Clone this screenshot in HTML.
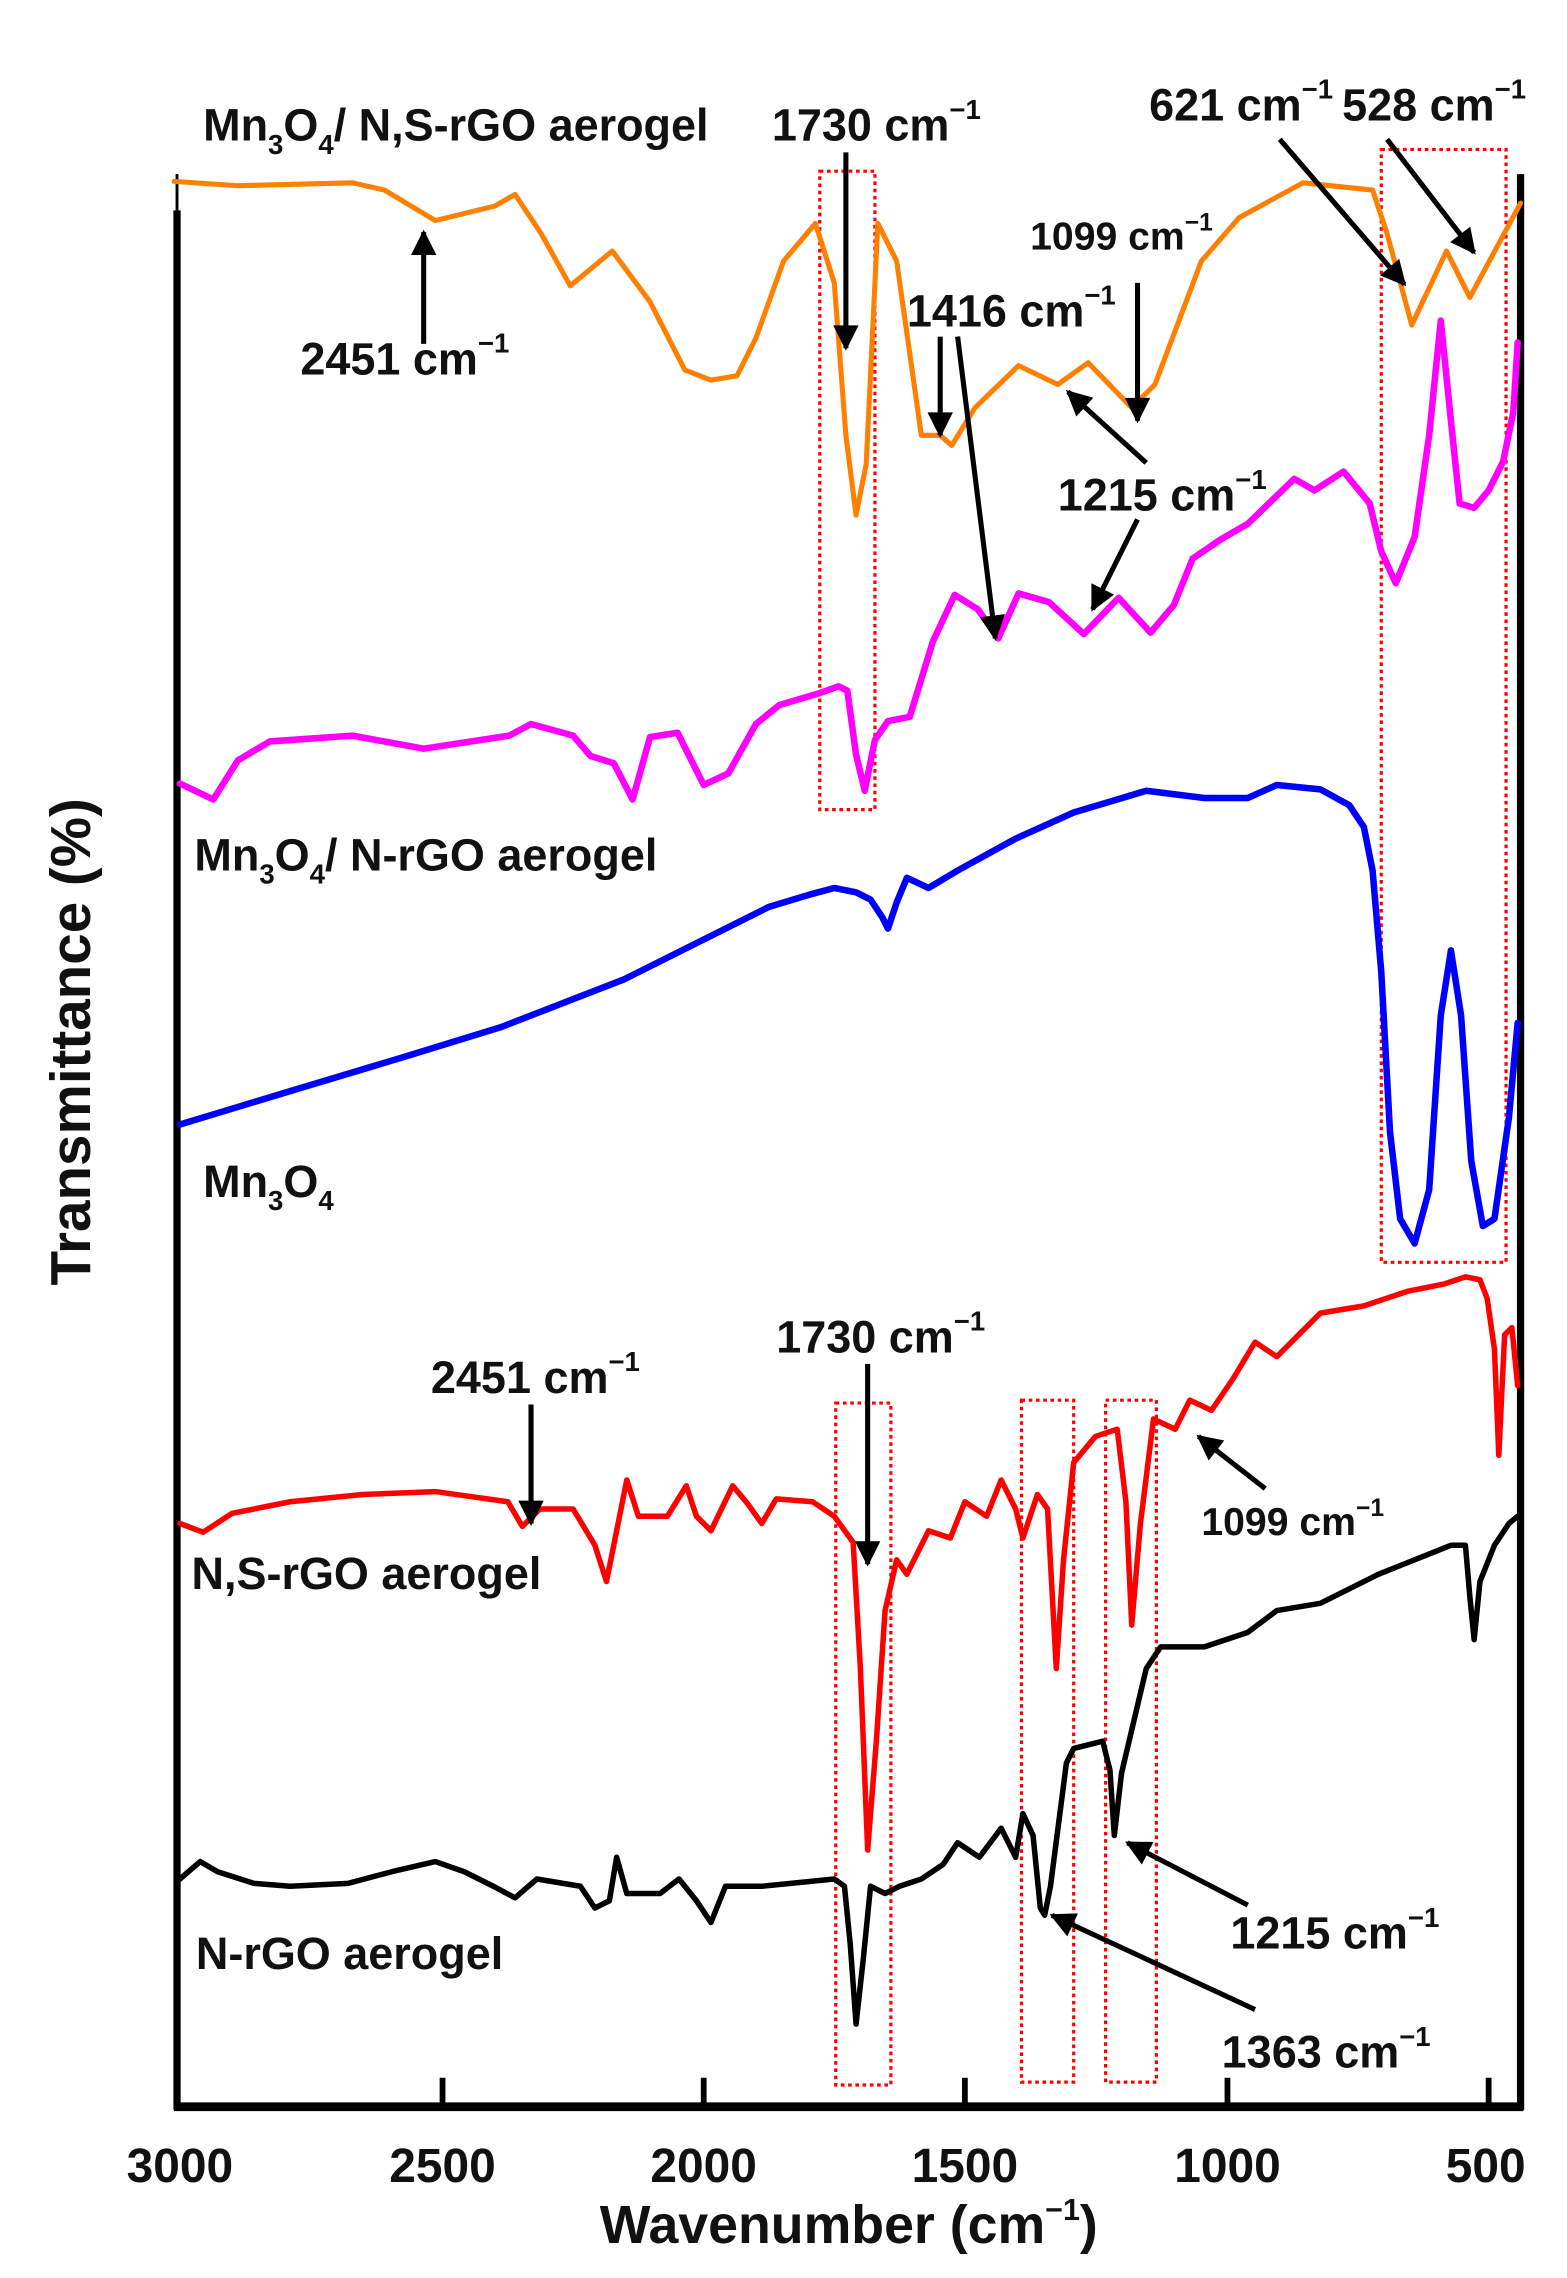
<!DOCTYPE html>
<html><head><meta charset="utf-8"><style>
html,body{margin:0;padding:0;background:#fff;}
svg{display:block;}
text{font-family:"Liberation Sans",Arial,sans-serif;font-weight:bold;fill:#111;}
</style></head><body>
<svg width="1567" height="2278" viewBox="0 0 1080 1570" preserveAspectRatio="none" xmlns="http://www.w3.org/2000/svg">
<rect width="1080" height="1570" fill="#fff"/>
<defs><marker id="ah" viewBox="0 0 10 10" refX="9" refY="5" markerWidth="5.5" markerHeight="5" orient="auto"><path d="M0,0 L10,5 L0,10 Z" fill="#000"/></marker></defs>
<line x1="122" y1="120" x2="122" y2="145" stroke="#000" stroke-width="2"/>
<line x1="122" y1="145" x2="122" y2="1454" stroke="#000" stroke-width="5"/>
<line x1="1048" y1="120" x2="1048" y2="1454" stroke="#000" stroke-width="5"/>
<line x1="120" y1="1452" x2="1050" y2="1452" stroke="#000" stroke-width="6"/>
<g stroke="#000" stroke-width="4">
<line x1="305" y1="1452" x2="305" y2="1432"/><line x1="485" y1="1452" x2="485" y2="1432"/><line x1="665" y1="1452" x2="665" y2="1432"/><line x1="846" y1="1452" x2="846" y2="1432"/><line x1="1026" y1="1452" x2="1026" y2="1432"/>
</g>
<g font-size="33" text-anchor="middle">
<text x="124" y="1504">3000</text><text x="305" y="1504">2500</text><text x="485" y="1504">2000</text><text x="665" y="1504">1500</text><text x="846" y="1504">1000</text><text x="1024" y="1504">500</text>
</g>
<text x="585" y="1546" font-size="37" text-anchor="middle">Wavenumber (cm<tspan font-size="21" dy="-16">−1</tspan><tspan dy="16">)</tspan></text>
<text transform="translate(62,718) rotate(-90)" font-size="39" text-anchor="middle">Transmittance (%)</text>
<g fill="none" stroke="#f00" stroke-width="2.2" stroke-dasharray="2.5,2.5">
<rect x="565" y="118" width="38" height="440"/>
<rect x="952" y="103" width="86" height="767"/>
<rect x="576" y="967" width="38" height="470"/>
<rect x="704" y="965" width="36" height="470"/>
<rect x="762" y="965" width="35" height="470"/>
</g>
<g fill="none" stroke-linejoin="round" stroke-linecap="round">
<polyline stroke="#ff7f00" stroke-width="3.5" points="120,125 164,128 243,126 265,131 300,152 341,142 355,134 373,161 393,197 422,173 448,208 472,255 490,262 508,259 521,233 540,180 562,154 575,195 583,300 590,355 597,320 605,154 618,180 635,300 648,300 656,307 672,281 702,252 729,265 750,250 780,281 796,265 828,180 854,150 898,126 946,131 956,161 973,224 997,173 1013,205 1048,140"/>
<polyline stroke="#ff00ff" stroke-width="4.5" points="124,540 147,551 164,524 186,511 243,507 292,516 351,507 366,499 395,507 407,521 423,526 436,551 448,508 467,505 485,541 502,533 521,499 537,486 564,478 578,473 584,476 590,520 596,545 603,510 612,497 627,494 643,442 658,410 674,420 688,440 702,409 723,415 747,437 771,412 793,436 809,417 822,385 841,372 860,361 892,330 906,338 926,325 944,347 952,380 962,402 975,370 985,300 993,221 1000,290 1006,347 1016,350 1026,338 1036,318 1043,284 1046,236"/>
<polyline stroke="#0000ff" stroke-width="4.5" points="124,775 200,752 280,728 345,708 430,675 480,650 530,625 560,616 575,612 590,615 600,620 608,632 612,640 618,622 625,605 640,612 660,600 700,578 740,560 790,545 830,550 860,550 880,541 910,544 930,555 940,570 946,600 952,670 958,780 965,840 975,857 985,820 993,700 1000,655 1007,700 1014,800 1022,845 1030,840 1040,770 1046,705"/>
<polyline stroke="#ff0000" stroke-width="3.8" points="124,1050 140,1056 160,1043 200,1035 250,1030 300,1028 350,1035 360,1052 372,1040 395,1040 410,1065 418,1090 428,1040 432,1020 440,1045 460,1045 473,1024 480,1045 490,1055 505,1024 515,1036 525,1050 535,1033 560,1035 575,1045 588,1063 593,1150 598,1275 604,1200 610,1110 618,1075 625,1085 640,1055 655,1060 665,1035 680,1045 690,1020 700,1040 705,1060 715,1030 722,1040 728,1150 733,1075 740,1008 755,990 770,985 776,1035 780,1120 786,1050 795,978 810,985 820,965 835,972 850,950 865,925 880,935 900,915 910,905 940,900 970,890 995,885 1010,880 1020,882 1025,895 1030,930 1033,1003 1037,920 1042,915 1046,955"/>
<polyline stroke="#000" stroke-width="3.8" points="124,1295 138,1283 150,1290 175,1298 200,1300 240,1298 270,1290 300,1283 320,1290 340,1300 355,1308 370,1295 400,1300 410,1315 420,1310 425,1280 432,1305 455,1305 468,1295 480,1310 490,1325 500,1300 525,1300 575,1295 582,1300 586,1340 590,1395 595,1350 600,1300 610,1305 620,1300 635,1295 650,1285 660,1270 675,1280 690,1260 700,1280 705,1250 712,1265 717,1315 720,1320 724,1300 735,1215 740,1205 760,1200 765,1220 768,1265 773,1222 790,1150 800,1135 830,1135 860,1125 880,1110 910,1105 930,1095 950,1085 975,1075 1000,1065 1010,1065 1013,1100 1016,1130 1020,1090 1030,1065 1040,1050 1046,1045"/>
</g>
<g stroke="#000" stroke-width="3.5" marker-end="url(#ah)">
<line x1="292" y1="237" x2="292" y2="160"/>
<line x1="583" y1="105" x2="583" y2="240"/>
<line x1="648" y1="232" x2="648" y2="300"/>
<line x1="660" y1="232" x2="686" y2="440"/>
<line x1="784" y1="195" x2="784" y2="290"/>
<line x1="790" y1="319" x2="736" y2="270"/>
<line x1="784" y1="358" x2="753" y2="420"/>
<line x1="882" y1="96" x2="968" y2="196"/>
<line x1="956" y1="96" x2="1016" y2="174"/>
<line x1="366" y1="968" x2="366" y2="1050"/>
<line x1="598" y1="940" x2="598" y2="1078"/>
<line x1="872" y1="1026" x2="826" y2="990"/>
<line x1="860" y1="1313" x2="777" y2="1270"/>
<line x1="865" y1="1385" x2="725" y2="1320"/>
</g>
<g font-size="31">
<text x="140" y="97">Mn<tspan font-size="19" dy="9">3</tspan><tspan dy="-9">O</tspan><tspan font-size="19" dy="9">4</tspan><tspan dy="-9">/ N,S-rGO aerogel</tspan></text>
<text x="532" y="97">1730 cm<tspan font-size="19" dy="-15">−1</tspan></text>
<text x="792" y="83">621 cm<tspan font-size="19" dy="-15">−1</tspan></text>
<text x="925" y="83">528 cm<tspan font-size="19" dy="-15">−1</tspan></text>
<text x="710" y="172" font-size="27">1099 cm<tspan font-size="17" dy="-13">−1</tspan></text>
<text x="625" y="225">1416 cm<tspan font-size="19" dy="-15">−1</tspan></text>
<text x="207" y="258">2451 cm<tspan font-size="19" dy="-15">−1</tspan></text>
<text x="729" y="352">1215 cm<tspan font-size="19" dy="-15">−1</tspan></text>
<text x="134" y="600">Mn<tspan font-size="19" dy="9">3</tspan><tspan dy="-9">O</tspan><tspan font-size="19" dy="9">4</tspan><tspan dy="-9">/ N-rGO aerogel</tspan></text>
<text x="140" y="825">Mn<tspan font-size="19" dy="9">3</tspan><tspan dy="-9">O</tspan><tspan font-size="19" dy="9">4</tspan></text>
<text x="297" y="960">2451 cm<tspan font-size="19" dy="-15">−1</tspan></text>
<text x="535" y="932">1730 cm<tspan font-size="19" dy="-15">−1</tspan></text>
<text x="828" y="1058" font-size="27">1099 cm<tspan font-size="17" dy="-13">−1</tspan></text>
<text x="132" y="1095">N,S-rGO aerogel</text>
<text x="848" y="1343">1215 cm<tspan font-size="19" dy="-15">−1</tspan></text>
<text x="135" y="1357">N-rGO aerogel</text>
<text x="842" y="1425">1363 cm<tspan font-size="19" dy="-15">−1</tspan></text>
</g>
</svg>
</body></html>
